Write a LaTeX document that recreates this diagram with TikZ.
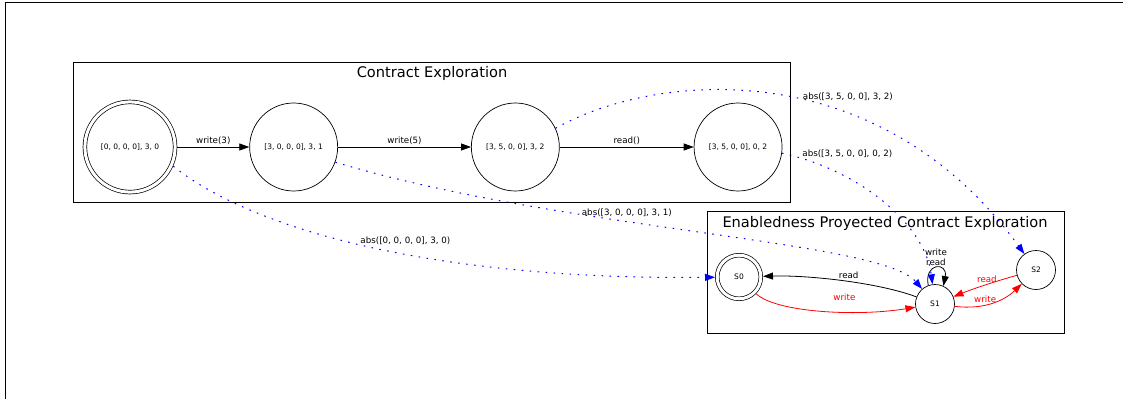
\documentclass[tikz,border=0pt]{standalone}
\usepackage{fontspec}
\setmainfont{DejaVu Sans}
\usepackage{tikz}
\usetikzlibrary{positioning, arrows.meta}

\begin{document}
\begin{tikzpicture}[
  x=1pt, y=-1pt,
  state/.style={draw, circle, line width=0.7pt, minimum size=88pt, inner sep=0pt, font=\fontsize{7.5}{9}\selectfont},
  accepting/.style={double, double distance=3pt, outer sep=2.2pt},
  cluster/.style={draw, line width=1pt},
  title/.style={font=\fontsize{14.6}{17}\selectfont},
  lbl/.style={font=\fontsize{8.7}{10.5}\selectfont, inner sep=1.5pt},
  arrow/.style={-{Triangle[length=10pt,width=7pt]}, line width=0.8pt},
  absarrow/.style={arrow, draw=blue, line width=1pt, dash pattern=on 1.6pt off 6.4pt}
]
\useasboundingbox (0,0) rectangle (1123,399);
\draw[line width=1pt] (5,399) -- (5,2.5) -- (1123,2.5);

% clusters
\draw[cluster] (73,62) rectangle (790,202);
\node[title] (ctitle) at (432,73) {Contract Exploration};
\draw[cluster] (707,211) rectangle (1064,333);
\node[title] (etitle) at (885,223) {Enabledness Proyected Contract Exploration};

% contract states
\node[state, accepting, minimum size=90.2pt] (n0) at (130,147) {[0, 0, 0, 0], 3, 0};
\node[state, right=72pt of n0] (n1) {[3, 0, 0, 0], 3, 1};
\node[state, right=133pt of n1] (n2) {[3, 5, 0, 0], 3, 2};
\node[state, right=134pt of n2] (n3) {[3, 5, 0, 0], 0, 2};

% enabledness states
\node[state, accepting, minimum size=43.6pt] (s0) at (739,277) {S0};
\node[state, minimum size=39pt] (s1) at (935,304) {S1};
\node[state, minimum size=39pt] (s2) at (1036,270) {S2};

\draw[arrow] (n0) -- node[lbl, above] {write(3)} (n1);
\draw[arrow] (n1) -- node[lbl, above] {write(5)} (n2);
\draw[arrow] (n2) -- node[lbl, above] {read()} (n3);

\draw[arrow] (s1) .. controls (880,283) and (810,275) .. node[lbl, pos=0.47, above=1pt] {read} (s0);
\draw[arrow, red] (s0) .. controls (775,312) and (855,317) .. node[lbl, pos=0.63, above=10pt] {write} (s1);
\draw[arrow, red] (s2) .. controls (1000,280) and (975,288) .. node[lbl, above] {read} (s1);
\draw[arrow, red] (s1) .. controls (985,310) and (1005,300) .. node[lbl, pos=0.38, above] {write} (s2);
\draw[arrow] (s1.110) .. controls (924,262) and (948,262) .. node[lbl, above, align=center] {write\\read} (s1.65);

% abstraction
\draw[absarrow] (n0.-24) .. controls (260,235) and (450,280) ..
  node[lbl, pos=0.55, above=7pt] {abs([0, 0, 0, 0], 3, 0)} (s0);
\draw[absarrow] (n1.-20) .. controls (560,230) and (880,240) ..
  node[lbl, pos=0.4, above=3pt] {abs([3, 0, 0, 0], 3, 1)} (s1);
\draw[absarrow] (n2.25) .. controls (660,70) and (880,55) ..
  node[lbl, pos=0.55, anchor=west, yshift=3pt] {abs([3, 5, 0, 0], 3, 2)} (s2);
\draw[absarrow] (n3.-8) .. controls (860,170) and (925,225) ..
  node[lbl, pos=0.08, anchor=west, yshift=4pt] {abs([3, 5, 0, 0], 0, 2)} (s1);

\end{tikzpicture}
\end{document}
